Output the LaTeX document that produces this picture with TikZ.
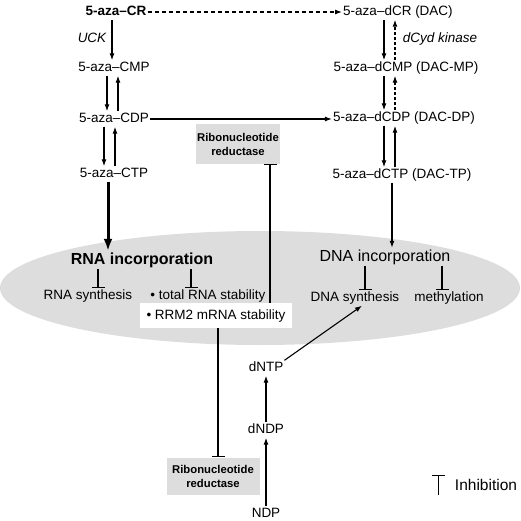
\documentclass[tikz,border=0pt]{standalone}
\usepackage{fontspec}
\setmainfont{Liberation Sans}
\usetikzlibrary{arrows.meta,positioning,calc}

\begin{document}
\begin{tikzpicture}[x=1pt,y=-1pt,
  every node/.style={inner sep=1pt,font=\fontsize{13.5}{15}\selectfont},
  mol/.style={text height=10pt,text depth=3pt},
  big/.style={font=\fontsize{16}{18}\selectfont,text height=12pt,text depth=4pt},
  rrbox/.style={fill=gray!27,minimum width=84pt,minimum height=40pt,align=center,
    font=\fontsize{11.3}{14}\selectfont\bfseries},
  arr/.style={-{Latex[length=7pt,width=5pt]},line width=1.1pt},
  inh/.style={-{Bar[width=13pt]},line width=1.1pt}]
  \useasboundingbox (0,0) rectangle (520,521);
  \fill[gray!27] (260,288) ellipse [x radius=260, y radius=57];

  % ribo side
  \node[mol,font=\fontsize{13.5}{15}\selectfont\bfseries] (cr) at (116,12) {5-aza--CR};
  \node[mol] (cmp) at (114,68) {5-aza--CMP};
  \node[mol] (cdp) at (114,119) {5-aza--CDP};
  \node[mol] (ctp) at (114,174) {5-aza--CTP};
  \node[font=\fontsize{13.5}{15}\selectfont\itshape] (uck) at (92,38) {UCK};
  % deoxy side
  \node[mol] (dcr) at (398,12) {5-aza--dCR (DAC)};
  \node[mol] (dcmp) at (406,68) {5-aza--dCMP (DAC-MP)};
  \node[mol] (dcdp) at (404,118) {5-aza--dCDP (DAC-DP)};
  \node[mol] (dctp) at (402,175) {5-aza--dCTP (DAC-TP)};
  \node[font=\fontsize{13.5}{15}\selectfont\itshape] (dck) at (440,39) {dCyd kinase};

  \node[rrbox] (rrup) at (238,144) {Ribonucleotide\\reductase};
  \node[rrbox,minimum width=93pt,minimum height=37pt] (rrlow) at (213,476) {Ribonucleotide\\reductase};

  \node[big,font=\fontsize{16}{18}\selectfont\bfseries] (rnainc) at (142,260) {RNA incorporation};
  \node[big] (dnainc) at (385,257) {DNA incorporation};
  \node[mol] (rnasyn) at (88,296) {RNA synthesis};
  \node[mol] (totrna) at (208,296) {\textbullet{} total RNA stability};
  \node[mol,fill=white,minimum width=152pt,minimum height=25pt] (rrm2) at (216,315.5) {\textbullet{} RRM2 mRNA stability};
  \node[mol] (dnasyn) at (355,298) {DNA synthesis};
  \node[mol] (methyl) at (449,298) {methylation};

  \node[mol] (dntp) at (266,368) {dNTP};
  \node[mol] (dndp) at (266,430) {dNDP};
  \node[mol] (ndp) at (266,514) {NDP};
  \node[font=\fontsize{15.5}{17}\selectfont,minimum height=19pt] (inhib) at (486,485) {Inhibition};

  \draw[arr,dash pattern=on 4pt off 3pt] (cr) -- (dcr);
  \draw[arr] ([xshift=-4pt]cr.south) -- ([xshift=-2pt]cmp.north);
  \draw[arr] ([xshift=-7pt]cmp.south) -- ([xshift=-7pt]cdp.north);
  \draw[arr] ([xshift=4pt]cdp.north) -- ([xshift=4pt]cmp.south);
  \draw[arr] ([xshift=-10pt]cdp.south) -- ([xshift=-10pt]ctp.north);
  \draw[arr] ([xshift=1pt]ctp.north) -- ([xshift=1pt]cdp.south);
  \draw[arr] (cdp.east) -- (cdp.east -| dcdp.west);
  \draw[-{Latex[length=12pt,width=9pt]},line width=3pt] ([xshift=-6pt]ctp.south) -- ([xshift=-34pt]rnainc.north);

  \draw[arr] ([xshift=-14pt]dcr.south) -- ([xshift=-22pt]dcmp.north);
  \draw[arr,dash pattern=on 3pt off 2pt] ([xshift=-11pt]dcmp.north) -- ([xshift=-3pt]dcr.south);
  \draw[arr] ([xshift=-22pt]dcmp.south) -- ([xshift=-20pt]dcdp.north);
  \draw[arr,dash pattern=on 3pt off 2pt] ([xshift=-9pt]dcdp.north) -- ([xshift=-11pt]dcmp.south);
  \draw[arr] ([xshift=-20pt]dcdp.south) -- ([xshift=-18pt]dctp.north);
  \draw[arr] ([xshift=-7pt]dctp.north) -- ([xshift=-9pt]dcdp.south);
  \draw[arr] ([xshift=-10pt]dctp.south) -- ([xshift=7pt]dnainc.north);

  % inhibitions
  \draw[inh] ([xshift=-44pt]rnainc.south) -- ([xshift=10pt]rnasyn.north);
  \draw[inh,line width=1.7pt] ([xshift=49pt]rnainc.south) -- ([xshift=-17pt]totrna.north);
  \draw[inh] ([xshift=-20pt]dnainc.south) -- ([xshift=10pt]dnasyn.north);
  \draw[inh] ([xshift=57pt]dnainc.south) -- ([xshift=-7pt]methyl.north);
  \draw[inh] ([xshift=54pt]rrm2.north) -- ([xshift=32pt]rrup.south);
  \draw[inh] ([xshift=2pt]rrm2.south) -- ([xshift=5pt]rrlow.north);

  \draw[arr] (ndp) -- (dndp);
  \draw[arr] (dndp) -- (dntp);
  \draw[arr] (dntp.north east) -- ([xshift=7pt]dnasyn.south);
  \draw[inh] ([xshift=-15pt]inhib.south west) -- ([xshift=-15pt]inhib.north west);
\end{tikzpicture}
\end{document}
